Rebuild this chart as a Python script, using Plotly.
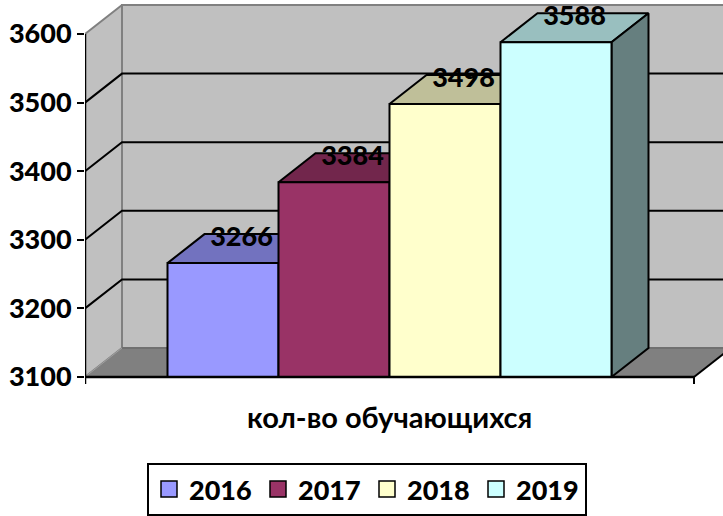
import plotly.graph_objects as go

# ---- data ----
years = ['2016', '2017', '2018', '2019']
students = [3266, 3384, 3498, 3588]
y_ticks = [3100, 3200, 3300, 3400, 3500, 3600]
x_title = 'кол-во обучающихся'
front_colors = ['#9999FF', '#993366', '#FFFFCC', '#CCFFFF']

# ---- geometry (styling constants) ----
PX_PER_UNIT_Y = 390 / (3649.6 - 3081)
BASE, TOP = y_ticks[0], y_ticks[-1]
DX = 37 / 609            # depth offset in category units
DY = 29 / PX_PER_UNIT_Y  # depth offset in value units
BAR_W = 111 / 609
START = (1 - len(years) * BAR_W) / 2
TICK = 7 / PX_PER_UNIT_Y
LABEL_SHIFT = 5 / PX_PER_UNIT_Y
FONT = 'Lato, "Open Sans", sans-serif'


def shade(hx, f):
    hx = hx.lstrip('#')
    r, g, b = (int(hx[i:i + 2], 16) for i in (0, 2, 4))
    return '#%02X%02X%02X' % (int(r * f), int(g * f), int(b * f))


fig = go.Figure()


def poly(xs, ys, fill, line, width=1.5):
    fig.add_trace(go.Scatter(x=xs + [xs[0]], y=ys + [ys[0]], mode='lines', fill='toself',
                             fillcolor=fill, line=dict(color=line, width=width),
                             hoverinfo='skip', showlegend=False))


def seg(xs, ys, color='black', width=1.5):
    fig.add_trace(go.Scatter(x=xs, y=ys, mode='lines', line=dict(color=color, width=width),
                             hoverinfo='skip', showlegend=False))


# walls and floor
poly([DX, 1 + DX, 1 + DX, DX], [BASE + DY, BASE + DY, TOP + DY, TOP + DY], '#C0C0C0', '#808080', 2)
poly([0, 0, DX, DX], [BASE, TOP, TOP + DY, BASE + DY], '#C0C0C0', '#808080', 2)
poly([0, 1, 1 + DX, DX], [BASE, BASE, BASE + DY, BASE + DY], '#808080', '#A0A0A0', 1)
seg([DX, 1 + DX], [BASE + DY, BASE + DY], '#666666', 1.5)
seg([1, 1 + DX], [BASE, BASE + DY], 'black', 2)

# gridlines
for v in y_ticks[1:-1]:
    seg([0, DX, 1 + DX], [v, v + DY, v + DY], 'black', 2)

# bars
for i, (yr, v, c) in enumerate(zip(years, students, front_colors)):
    x0 = START + i * BAR_W
    x1 = x0 + BAR_W
    poly([x0, x1, x1 + DX, x0 + DX], [v, v, v + DY, v + DY], shade(c, 0.75), 'black', 2)
    poly([x1, x1, x1 + DX, x1 + DX], [BASE, v, v + DY, BASE + DY], shade(c, 0.5), 'black', 2)
    poly([x0, x1, x1, x0], [BASE, BASE, v, v], c, 'black', 2)

# axis lines
seg([0, 0], [BASE - TICK, TOP], 'black', 2.5)
seg([0, 1], [BASE, BASE], 'black', 2.5)
seg([1, 1], [BASE, BASE - TICK], 'black', 2)

# data labels
fig.add_trace(go.Scatter(
    x=[START + (i + 0.5) * BAR_W + DX / 2 for i in range(len(years))],
    y=[v + DY - LABEL_SHIFT for v in students],
    mode='text', text=[str(v) for v in students], textposition='middle center',
    textfont=dict(family=FONT, size=27, color='black', weight=900),
    hoverinfo='skip', showlegend=False, cliponaxis=False))

# legend entries
for yr, c in zip(years, front_colors):
    fig.add_trace(go.Scatter(x=[None], y=[None], mode='markers', name=yr,
                             marker=dict(symbol='square', size=16, color=c,
                                         line=dict(color='black', width=1.5))))

fig.update_layout(
    width=723, height=516,
    margin=dict(l=85, r=0, t=0, b=126, autoexpand=False),
    paper_bgcolor='white', plot_bgcolor='white',
    xaxis=dict(range=[0, 638 / 609], visible=False),
    yaxis=dict(range=[3081, 3649.6], tickvals=y_ticks, ticks='outside', ticklen=7,
               tickwidth=2, tickcolor='black', showgrid=False, zeroline=False, showline=False,
               tickfont=dict(family=FONT, size=27, color='black', weight=900)),
    showlegend=True,
    legend=dict(orientation='h', x=(367 - 85) / 638, xanchor='center', y=-73 / 390, yanchor='top',
                bordercolor='black', borderwidth=2, bgcolor='white', entrywidth=64,
                entrywidthmode='pixels',
                font=dict(family=FONT, size=27, color='black', weight=900)),
    annotations=[dict(text=x_title, xref='paper', yref='paper', x=(389 - 85) / 638, y=-26 / 390,
                      xanchor='center', yanchor='middle', showarrow=False,
                      font=dict(family=FONT, size=29, color='black', weight='bold'))],
)

fig.write_html('out.html', config={'displayModeBar': False},
               post_script="document.body.style.margin='0';document.body.style.padding='0';")
